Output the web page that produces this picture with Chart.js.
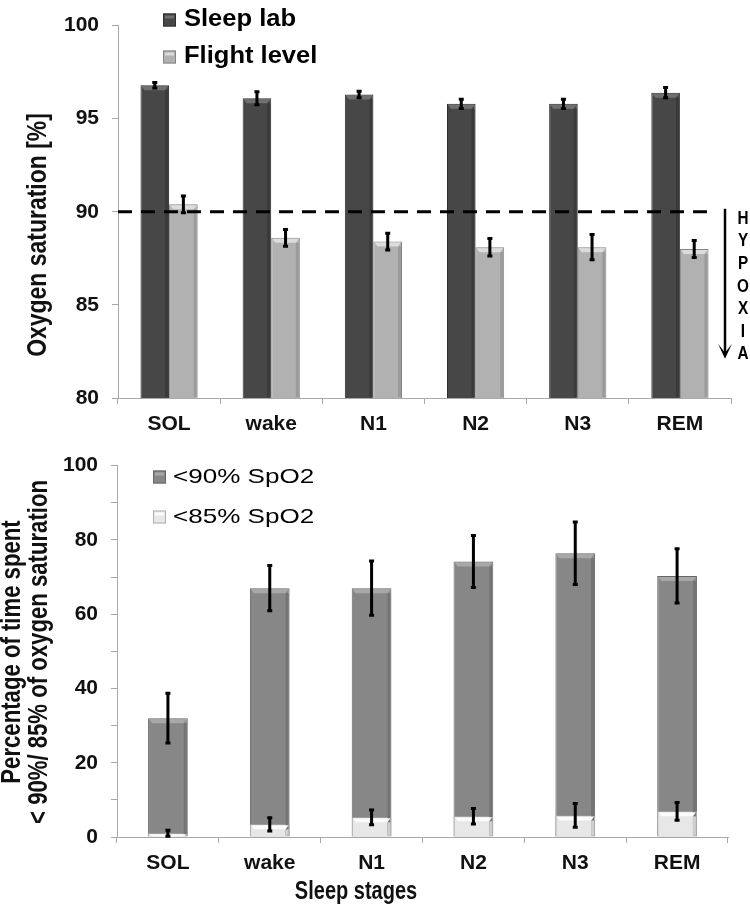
<!DOCTYPE html>
<html>
<head>
<meta charset="utf-8">
<script src="https://cdn.jsdelivr.net/npm/chart.js@4/dist/chart.umd.min.js"></script>
<style>
  html, body { margin: 0; padding: 0; background: #fff; }
  canvas { display: block; }
</style>
</head>
<body>
<canvas id="top" width="750" height="440"></canvas>
<canvas id="bottom" width="750" height="466"></canvas>
<script>
// ---------------- DATA ----------------
const categories = ['SOL', 'wake', 'N1', 'N2', 'N3', 'REM'];

// Top panel: oxygen saturation [%]
const sleepLab       = [96.8, 96.1, 96.3, 95.8, 95.8, 96.4];
const sleepLabErr    = [0.15, 0.35, 0.18, 0.25, 0.25, 0.28];
const flightLevel    = [90.4, 88.6, 88.4, 88.1, 88.1, 88.0];
const flightLevelErr = [0.45, 0.45, 0.45, 0.47, 0.68, 0.46];
const hypoxiaThreshold = 90;
const topTicks = [80, 85, 90, 95, 100];

// Bottom panel: percentage of time spent below thresholds
const below90    = [32.0, 67.0, 67.0, 74.2, 76.4, 70.3];
const below90Err = [6.7, 6.1, 7.3, 7.0, 8.4, 7.3];
const below85    = [1.0, 3.4, 5.3, 5.6, 5.8, 6.9];
const below85Err = [0.8, 1.8, 2.0, 2.1, 3.2, 2.4];
const bottomTicks = [0, 20, 40, 60, 80, 100];

// ---------------- STYLE ----------------
const FONT = '"Liberation Sans", Arial, sans-serif';
const AXIS_GREY = '#a8a8a8';
const TEXT = '#111111';

function drawScaledText(ctx, text, x, y, font, sx, opts) {
  opts = opts || {};
  ctx.save();
  ctx.translate(x, y);
  if (opts.rotate) ctx.rotate(opts.rotate);
  ctx.scale(sx, 1);
  ctx.font = font;
  ctx.fillStyle = opts.color || TEXT;
  ctx.textAlign = opts.align || 'center';
  ctx.textBaseline = 'middle';
  ctx.fillText(text, 0, 0);
  ctx.restore();
}

// plugin factory: bevel highlight, threshold line, error bars, legend, titles
function makeDecor(cfg) {
  return {
    id: 'decor',
    afterDatasetsDraw(chart) {
      const ctx = chart.ctx;
      const yScale = chart.scales.y;
      const a = chart.chartArea;
      const metas = chart.getSortedVisibleDatasetMetas().slice().reverse();
      metas.forEach((meta) => {
        const ds = chart.data.datasets[meta.index];
        meta.data.forEach((bar) => {
          const p = bar.getProps(['x', 'y', 'base', 'width'], true);
          const base = Math.min(p.base, a.bottom);
          const top = Math.max(p.y, a.top);
          const h = Math.min(5, Math.abs(base - top));
          const l = p.x - p.width / 2, r = p.x + p.width / 2;
          ctx.save();
          ctx.fillStyle = ds.highlightColor;
          ctx.beginPath();
          ctx.moveTo(l + 1, top + 1);
          ctx.lineTo(r - 1, top + 1);
          ctx.lineTo(r - 4, top + h);
          ctx.lineTo(l + 4, top + h);
          ctx.closePath();
          ctx.fill();
          ctx.fillStyle = ds.shadeColor;
          ctx.fillRect(r - 4, top + h, 3, Math.max(0, base - top - h - 1));
          ctx.restore();
        });
      });
      if (cfg.threshold !== undefined) {
        const y = yScale.getPixelForValue(cfg.threshold);
        ctx.save();
        ctx.strokeStyle = '#000';
        ctx.lineWidth = 3;
        ctx.setLineDash([14, 9]);
        ctx.beginPath();
        ctx.moveTo(a.left, y);
        ctx.lineTo(a.right - 23, y);
        ctx.stroke();
        ctx.restore();
      }
      chart.data.datasets.forEach((ds, di) => {
        const meta = chart.getDatasetMeta(di);
        meta.data.forEach((bar, i) => {
          const v = ds.data[i], e = ds.errors[i];
          const x = bar.x;
          const y1 = yScale.getPixelForValue(v + e);
          const y2 = yScale.getPixelForValue(v - e);
          ctx.save();
          ctx.strokeStyle = '#000';
          ctx.lineWidth = 3;
          ctx.beginPath();
          ctx.moveTo(x, y1); ctx.lineTo(x, y2);
          ctx.moveTo(x - 2.5, y1); ctx.lineTo(x + 2.5, y1);
          ctx.moveTo(x - 2.5, y2); ctx.lineTo(x + 2.5, y2);
          ctx.stroke();
          ctx.restore();
        });
      });
    },
    afterDraw(chart) {
      const ctx = chart.ctx;
      const a = chart.chartArea;
      cfg.legend.forEach((di, k) => {
        const ds = chart.data.datasets[di];
        const cy = cfg.legendY + k * cfg.legendGap;
        const sq = 13;
        ctx.save();
        ctx.fillStyle = ds.backgroundColor;
        ctx.fillRect(cfg.legendX, cy - sq / 2, sq, sq);
        ctx.fillStyle = ds.highlightColor;
        ctx.fillRect(cfg.legendX + 2, cy - sq / 2 + 2, sq - 4, 3);
        ctx.strokeStyle = ds.borderColor;
        ctx.lineWidth = 1;
        ctx.strokeRect(cfg.legendX + 0.5, cy - sq / 2 + 0.5, sq - 1, sq - 1);
        ctx.restore();
        drawScaledText(ctx, ds.label, cfg.legendX + cfg.textOffset, cy, cfg.legendFont, cfg.legendScale, {align: 'left', color: '#000'});
      });
      cfg.titles.forEach(t => {
        drawScaledText(ctx, t.text, t.x, t.y, t.font, t.sx, {rotate: t.rotate});
      });
      if (cfg.hypoxia) {
        const x = a.right - 6;
        const y0 = chart.scales.y.getPixelForValue(hypoxiaThreshold) - 3;
        const y1 = y0 + 150;
        ctx.save();
        ctx.strokeStyle = '#000';
        ctx.fillStyle = '#000';
        ctx.lineWidth = 2.5;
        ctx.beginPath();
        ctx.moveTo(x, y0); ctx.lineTo(x, y1 - 4); ctx.stroke();
        ctx.beginPath();
        ctx.moveTo(x - 7, y1 - 15); ctx.lineTo(x, y1); ctx.lineTo(x + 7, y1 - 15);
        ctx.lineTo(x, y1 - 6); ctx.closePath();
        ctx.fill();
        ctx.restore();
        'HYPOXIA'.split('').forEach((ch, k) => {
          drawScaledText(ctx, ch, a.right + 12, y0 + 10 + k * 22.6, 'bold 18px ' + FONT, 0.85, {color: '#000'});
        });
      }
    }
  };
}

function axisCommon() {
  return {
    grid: { display: true, drawOnChartArea: false, drawTicks: true, tickLength: 6, color: AXIS_GREY, lineWidth: 1 },
    border: { display: true, color: AXIS_GREY, width: 1 },
  };
}

// ---------------- TOP CHART ----------------
new Chart(document.getElementById('top'), {
  type: 'bar',
  data: {
    labels: categories,
    datasets: [
      { label: 'Sleep lab', data: sleepLab, errors: sleepLabErr,
        backgroundColor: '#474747', borderColor: '#2e2e2e', borderWidth: 1,
        highlightColor: '#707070', shadeColor: '#3a3a3a' },
      { label: 'Flight level', data: flightLevel, errors: flightLevelErr,
        backgroundColor: '#b1b1b1', borderColor: '#858585', borderWidth: 1,
        highlightColor: '#dcdcdc', shadeColor: '#9a9a9a' }
    ]
  },
  options: {
    responsive: false,
    animation: false,
    layout: { padding: { top: 18, right: 19, left: 0, bottom: 0 } },
    datasets: { bar: { categoryPercentage: 0.56, barPercentage: 1.0 } },
    plugins: { legend: { display: false }, tooltip: { enabled: false } },
    scales: {
      x: Object.assign(axisCommon(), {
        ticks: { font: { family: FONT, size: 21, weight: 'bold' }, color: TEXT, padding: 8 },
        afterFit(s) { s.height = 42; }
      }),
      y: Object.assign(axisCommon(), {
        min: topTicks[0], max: topTicks[topTicks.length - 1],
        ticks: { stepSize: topTicks[1] - topTicks[0], font: { family: FONT, size: 21, weight: 'bold' }, color: TEXT, padding: 13 },
        afterFit(s) { s.width = 118; }
      })
    }
  },
  plugins: [makeDecor({
    threshold: hypoxiaThreshold,
    hypoxia: true,
    legend: [0, 1],
    legendX: 163, legendY: 20, legendGap: 37, textOffset: 21,
    legendFont: 'bold 23px ' + FONT, legendScale: 1.11,
    titles: [
      { text: 'Oxygen saturation [%]', font: 'bold 28px ' + FONT, sx: 0.82, rotate: -Math.PI / 2, x: 38, y: 235 }
    ]
  })]
});

// ---------------- BOTTOM CHART ----------------
new Chart(document.getElementById('bottom'), {
  type: 'bar',
  data: {
    labels: categories,
    datasets: [
      { label: '<90% SpO2', data: below90, errors: below90Err, order: 2, grouped: false,
        backgroundColor: '#878787', borderColor: '#666666', borderWidth: 1,
        highlightColor: '#a8a8a8', shadeColor: '#747474' },
      { label: '<85% SpO2', data: below85, errors: below85Err, order: 1, grouped: false,
        backgroundColor: '#e7e7e7', borderColor: '#b0b0b0', borderWidth: 1,
        highlightColor: '#fbfbfb', shadeColor: '#cfcfcf' }
    ]
  },
  options: {
    responsive: false,
    animation: false,
    layout: { padding: { top: 17, right: 22, left: 0, bottom: 0 } },
    datasets: { bar: { categoryPercentage: 0.39, barPercentage: 1.0 } },
    plugins: { legend: { display: false }, tooltip: { enabled: false } },
    scales: {
      x: Object.assign(axisCommon(), {
        ticks: { font: { family: FONT, size: 21, weight: 'bold' }, color: TEXT, padding: 8 },
        afterFit(s) { s.height = 69; }
      }),
      y: Object.assign(axisCommon(), {
        min: bottomTicks[0], max: bottomTicks[bottomTicks.length - 1],
        ticks: { stepSize: 10, font: { family: FONT, size: 21, weight: 'bold' }, color: TEXT, padding: 13,
          callback: v => bottomTicks.includes(v) ? String(v) : '' },
        afterFit(s) { s.width = 117; }
      })
    }
  },
  plugins: [makeDecor({
    legend: [0, 1],
    legendX: 153, legendY: 37, legendGap: 40, textOffset: 20,
    legendFont: '21px ' + FONT, legendScale: 1.24,
    titles: [
      { text: 'Percentage of time spent', font: 'bold 27px ' + FONT, sx: 0.82, rotate: -Math.PI / 2, x: 13, y: 212 },
      { text: '< 90%/ 85% of oxygen saturation', font: 'bold 27px ' + FONT, sx: 0.82, rotate: -Math.PI / 2, x: 40, y: 212 },
      { text: 'Sleep stages', font: 'bold 25px ' + FONT, sx: 0.8, rotate: 0, x: 356, y: 452 }
    ]
  })]
});
</script>
</body>
</html>
